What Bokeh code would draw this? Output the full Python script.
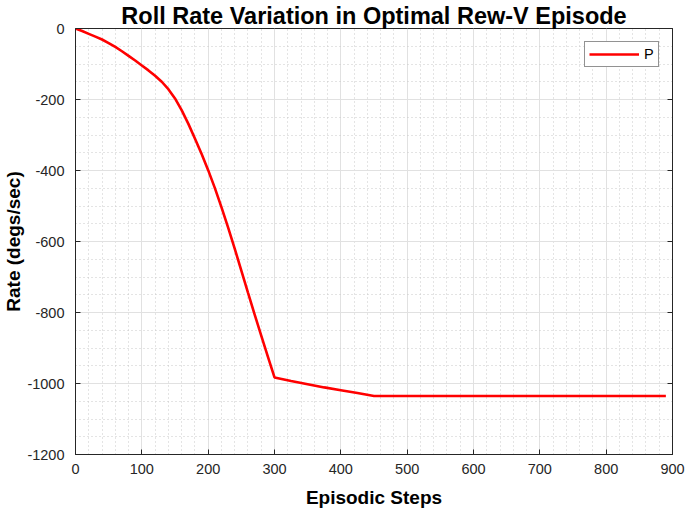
from bokeh.plotting import figure
from bokeh.models import (Range1d, SingleIntervalTicker, LinearAxis, Legend, LegendItem,
                          PrintfTickFormatter, CustomJSTickFormatter)
from bokeh.embed import file_html
from bokeh.resources import INLINE

# Data
steps = [0, 10, 20, 30, 40, 50, 60, 70, 80, 90, 100, 110, 120, 130, 140, 150, 160, 170, 180,
         190, 200, 210, 220, 230, 240, 250, 260, 270, 280, 290, 300, 325, 350, 375, 400, 425,
         450, 500, 600, 700, 800, 890]
roll_rate = [0, -7, -15, -23, -31, -41, -52, -64, -77, -90, -104, -118, -133, -150, -171, -197,
             -230, -268, -310, -353, -399, -449, -503, -560, -620, -682, -744, -805, -865, -924,
             -983, -993, -1002, -1011, -1019, -1027, -1035, -1035, -1035, -1035, -1035, -1035]
series_name = "P"
title_text = "Roll Rate Variation in Optimal Rew-V Episode"
x_label = "Episodic Steps"
y_label = "Rate (degs/sec)"

FONT = "Liberation Sans"
AX = "#262626"

p = figure(frame_width=597, frame_height=426,
           x_range=Range1d(0, 900), y_range=Range1d(-1200, 0),
           output_backend="svg", toolbar_location=None,
           min_border_left=75, min_border_right=13, min_border_top=27, min_border_bottom=55)
p.background_fill_color = "white"
p.border_fill_color = "white"
p.outline_line_color = AX
p.outline_line_width = 1

p.title.text = title_text
p.title.text_font = FONT
p.title.text_font_style = "bold"
p.title.text_font_size = "23.5px"
p.title.text_color = "black"
p.title.align = "center"
p.title.standoff = 0
p.title.offset = 10
p.title.text_line_height = 0.9

r = p.line(steps, roll_rate, line_color="#ff0000", line_width=2.6)

xt = SingleIntervalTicker(interval=100, num_minor_ticks=5)
yt = SingleIntervalTicker(interval=200, num_minor_ticks=4)
p.xaxis.ticker = xt
p.yaxis.ticker = yt
p.xaxis.formatter = PrintfTickFormatter(format="%d")
p.yaxis.formatter = PrintfTickFormatter(format="%d")

for ax in (p.xaxis[0], p.yaxis[0]):
    ax.axis_line_color = AX
    ax.major_tick_line_color = AX
    ax.major_tick_in = 5
    ax.major_tick_out = 0
    ax.minor_tick_line_color = None
    ax.major_label_text_font = FONT
    ax.major_label_text_font_size = "14.5px"
    ax.major_label_text_color = AX
    ax.axis_label_text_font = FONT
    ax.axis_label_text_font_style = "bold"
    ax.axis_label_text_font_size = "19px"
    ax.axis_label_text_color = "black"

p.xaxis.axis_label = x_label
p.yaxis.axis_label = y_label
p.xaxis.major_label_standoff = 5
p.xaxis.axis_label_standoff = 10
p.yaxis.major_label_standoff = 7
p.yaxis.axis_label_standoff = 0

blank = CustomJSTickFormatter(code="return '';")
a = LinearAxis(ticker=yt, axis_line_color=AX, major_tick_line_color=AX,
               major_tick_in=5, major_tick_out=0, minor_tick_line_color=None,
               formatter=blank, major_label_standoff=0)
p.add_layout(a, "right")

for g in (p.xgrid[0], p.ygrid[0]):
    g.grid_line_color = "#e1e1e1"
    g.grid_line_width = 1
    g.minor_grid_line_color = "#c8c8c8"
    g.minor_grid_line_dash = "1 3"
    g.minor_grid_line_width = 1
p.xgrid.ticker = xt
p.ygrid.ticker = yt

legend = Legend(items=[LegendItem(label=series_name, renderers=[r])],
                location="top_right", margin=13, padding=4, spacing=0,
                glyph_width=50, glyph_height=16, label_height=16, label_width=10,
                label_standoff=5,
                label_text_font=FONT, label_text_font_size="14.5px", label_text_color="black",
                border_line_color=AX, border_line_width=1, background_fill_color="white",
                background_fill_alpha=1.0)
p.add_layout(legend)

open("out.html", "w").write(file_html(p, INLINE))
